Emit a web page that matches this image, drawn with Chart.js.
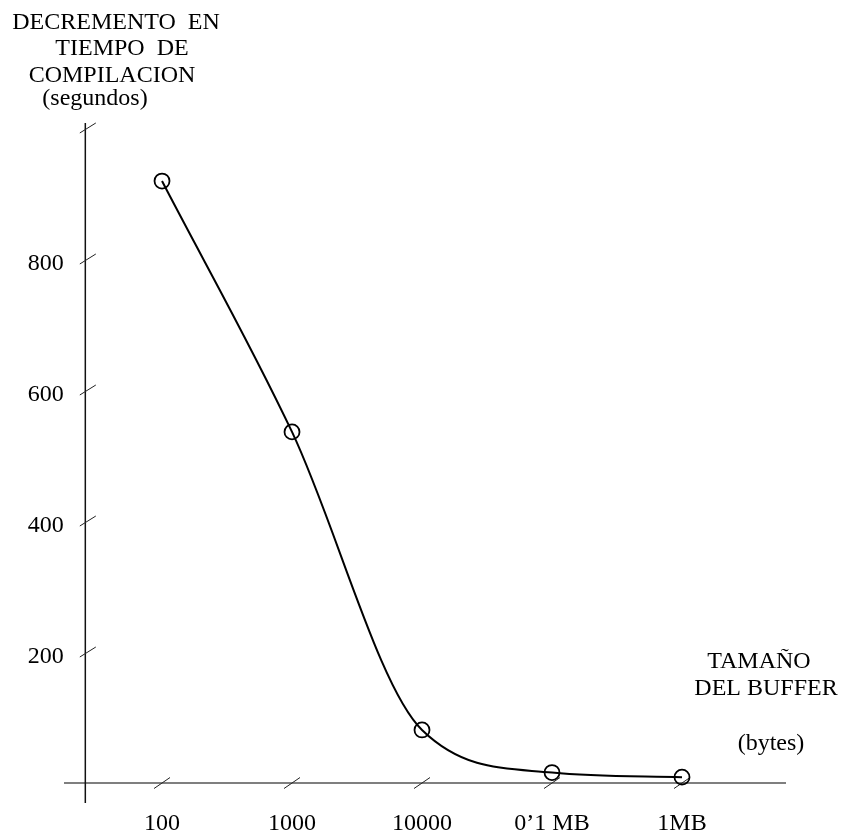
<!DOCTYPE html>
<html lang="es">
<head>
  <meta charset="UTF-8">
  <title>Decremento en tiempo de compilación</title>
  <style>
    html, body {
      margin: 0;
      padding: 0;
      background: #fff;
    }
    #wrap {
      width: 848px;
      height: 838px;
    }
  </style>
</head>
<body>
  <div id="wrap"><canvas id="chart" width="848" height="838"></canvas></div>

  <script src="https://cdn.jsdelivr.net/npm/chart.js"></script>
  <script>
    // datos
    const bufferLabels = ['100', '1000', '10000', '0\u20191 MB', '1MB'];
    const decrementSecs = [919, 536, 81, 16, 9];
    const yTickValues = [200, 400, 600, 800, 1000];
    const yTickLabels = ['200', '400', '600', '800', ''];
    const yTitleLines = ['DECREMENTO  EN', 'TIEMPO  DE', 'COMPILACION', '(segundos)'];
    const xTitleLines = ['TAMAÑO', 'DEL BUFFER', '(bytes)'];

    const FONT = '"Liberation Serif", "Times New Roman", serif';
    const Y_AXIS_AT = -0.59;   // valor de x donde cruza el eje vertical

    function seg(ctx, x1, y1, x2, y2) {
      ctx.beginPath();
      ctx.moveTo(x1, y1);
      ctx.lineTo(x2, y2);
      ctx.stroke();
    }

    // ejes dibujados a mano, con las marcas inclinadas del original
    const handAxes = {
      id: 'handAxes',
      beforeDatasetsDraw(chart) {
        const { ctx, chartArea: a, scales: { x, y } } = chart;
        const x0 = x.getPixelForValue(Y_AXIS_AT);
        const y0 = y.getPixelForValue(0);
        ctx.save();

        ctx.strokeStyle = '#555';
        ctx.lineWidth = 1.6;
        seg(ctx, a.left, y0, a.right, y0);

        ctx.strokeStyle = '#111';
        ctx.lineWidth = 1.5;
        seg(ctx, x0, a.top, x0, a.bottom);

        ctx.strokeStyle = '#222';
        ctx.lineWidth = 1;
        yTickValues.forEach(v => {
          const py = y.getPixelForValue(v);
          seg(ctx, x0 - 5.5, py + 5, x0 + 10.5, py - 5);
        });
        bufferLabels.forEach((l, i) => {
          const px = x.getPixelForValue(i);
          seg(ctx, px - 8, y0 + 5.5, px + 8, y0 - 5.5);
        });

        ctx.fillStyle = '#000';
        ctx.font = '24px ' + FONT;
        ctx.textBaseline = 'alphabetic';

        ctx.textAlign = 'right';
        yTickValues.forEach((v, k) => {
          ctx.fillText(yTickLabels[k], x0 - 21.5, y.getPixelForValue(v) + 11);
        });

        ctx.textAlign = 'center';
        bufferLabels.forEach((l, i) => {
          ctx.fillText(l, x.getPixelForValue(i), y0 + 47);
        });

        // titulo del eje vertical
        const yt = [[116, 29], [122, 55], [112, 82], [95, 105]];
        yTitleLines.forEach((t, k) => ctx.fillText(t, yt[k][0], yt[k][1]));

        // titulo del eje horizontal
        const xt = [[759, 668], [766, 695], [771, 750]];
        xTitleLines.forEach((t, k) => ctx.fillText(t, xt[k][0], xt[k][1]));

        ctx.restore();
      }
    };

    new Chart(document.getElementById('chart').getContext('2d'), {
      type: 'line',
      data: {
        datasets: [{
          data: decrementSecs.map((v, i) => ({ x: i, y: v })),
          borderColor: '#000',
          borderWidth: 2,
          cubicInterpolationMode: 'monotone',
          pointRadius: 7.5,
          pointBorderWidth: 1.8,
          pointBorderColor: '#000',
          pointBackgroundColor: 'rgba(0,0,0,0)',
          clip: false
        }]
      },
      options: {
        responsive: false,
        animation: false,
        layout: { padding: { left: 64, right: 62, top: 123, bottom: 35 } },
        scales: {
          x: { type: 'linear', display: false, min: -0.754, max: 4.8 },
          y: { display: false, min: -30.5, max: 1007.6 }
        },
        plugins: {
          legend: { display: false },
          tooltip: { enabled: false }
        }
      },
      plugins: [handAxes]
    });
  </script>
</body>
</html>
